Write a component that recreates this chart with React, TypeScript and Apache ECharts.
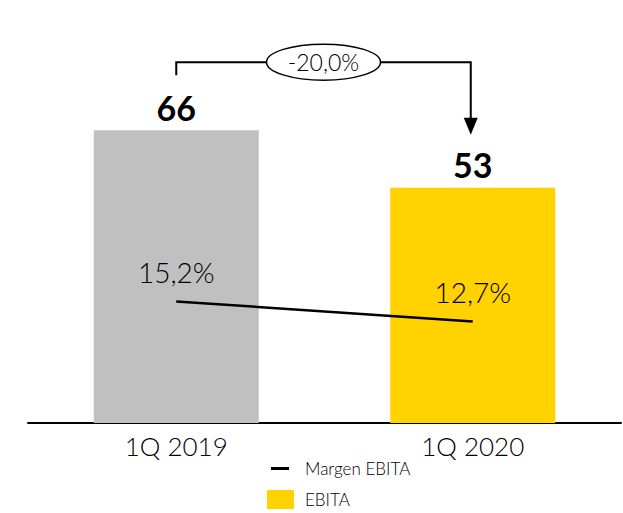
import React, { useEffect, useRef } from "react";
import * as echarts from "echarts";

const categories = ["1Q 2019", "1Q 2020"];
const ebitaValues = [66, 53];
const marginValues = [15.2, 12.7];
const barColors = ["#C0C0C0", "#FFD200"];
const changeLabel = "-20,0%";
const seriesNames = ["EBITA", "Margen EBITA"];

const FONT = "Lato, 'DejaVu Sans', sans-serif";
const fmt = (v: number) => v.toFixed(1).replace(".", ",") + "%";

export default function App() {
  const ref = useRef<HTMLDivElement>(null);
  useEffect(() => {
    if (!ref.current) return;
    const chart = echarts.init(ref.current, null, { renderer: "svg" });
    const option: any = {
      animation: false,
      grid: { left: 28, right: 2, top: 68, bottom: 90 },
      legend: {
        orient: "vertical",
        left: 267,
        top: 459,
        padding: 0,
        itemWidth: 27,
        itemHeight: 19,
        itemGap: 12,
        textStyle: {
          fontFamily: FONT,
          fontSize: 17,
          color: "#000",
          fontWeight: 300,
          padding: [0, 0, 0, 6],
        },
        data: [
          {
            name: seriesNames[1],
            icon: "path://M0,0 M27,19 M4,8 L22,8 L22,11 L4,11 Z",
            itemStyle: { color: "#000" },
          },
          { name: seriesNames[0], icon: "rect" },
        ],
      },
      xAxis: {
        type: "category",
        data: categories,
        axisLine: { lineStyle: { color: "#000", width: 2 } },
        axisTick: { show: false },
        axisLabel: { fontFamily: FONT, fontSize: 26, fontWeight: 300, color: "#000", margin: 10 },
      },
      yAxis: [
        { type: "value", min: 0, max: 80, show: false, splitLine: { show: false } },
        { type: "value", min: 0, max: 44.4, show: false, splitLine: { show: false } },
      ],
      series: [
        {
          name: seriesNames[0],
          type: "bar",
          barWidth: 165,
          itemStyle: { color: barColors[1] },
          data: ebitaValues.map((v, i) => ({ value: v, itemStyle: { color: barColors[i] } })),
          label: {
            show: true,
            position: "top",
            distance: 6,
            fontFamily: FONT,
            fontWeight: "bold",
            fontSize: 34,
            color: "#000",
          },
        },
        {
          name: seriesNames[1],
          type: "line",
          yAxisIndex: 1,
          symbol: "circle",
          symbolSize: 0,
          showSymbol: true,
          lineStyle: { color: "#000", width: 2.5 },
          itemStyle: { color: "#000" },
          data: marginValues,
          label: {
            show: true,
            position: "top",
            distance: 15,
            fontFamily: FONT,
            fontSize: 28,
            fontWeight: 300,
            color: "#000",
            formatter: (p: any) => fmt(p.value),
          },
          z: 5,
        },
      ],
    };
    chart.setOption(option);

    const p1 = chart.convertToPixel({ seriesIndex: 0 }, [0, ebitaValues[0]]) as number[];
    const p2 = chart.convertToPixel({ seriesIndex: 0 }, [1, ebitaValues[1]]) as number[];
    const yb = p1[1] - 68;
    const cx = (p1[0] + p2[0]) / 2 - 1;
    const rx = 57;
    const ry = 18;
    const ax = p2[0] - 2;
    const tip = p2[1] - 53;
    chart.setOption({
      graphic: [
        {
          type: "polyline",
          shape: { points: [[p1[0], p1[1] - 55], [p1[0], yb], [cx - rx, yb]] },
          style: { stroke: "#000", lineWidth: 2, fill: null },
        },
        {
          type: "polyline",
          shape: { points: [[cx + rx, yb], [ax, yb], [ax, tip - 14]] },
          style: { stroke: "#000", lineWidth: 2, fill: null },
        },
        {
          type: "polygon",
          shape: { points: [[ax - 7, tip - 17], [ax + 7, tip - 17], [ax, tip]] },
          style: { fill: "#000" },
        },
        {
          type: "ellipse",
          shape: { cx, cy: yb, rx, ry },
          style: { fill: "#fff", stroke: "#000", lineWidth: 1.5 },
        },
        {
          type: "text",
          x: cx,
          y: yb,
          style: {
            text: changeLabel,
            fontFamily: FONT,
            fontSize: 23,
            fontWeight: 300,
            fill: "#000",
            align: "center",
            verticalAlign: "middle",
          },
        },
      ],
    });
    return () => chart.dispose();
  }, []);
  return (
    <div
      ref={ref}
      style={{ position: "fixed", left: 0, top: 0, width: 623, height: 513, background: "#fff" }}
    />
  );
}
